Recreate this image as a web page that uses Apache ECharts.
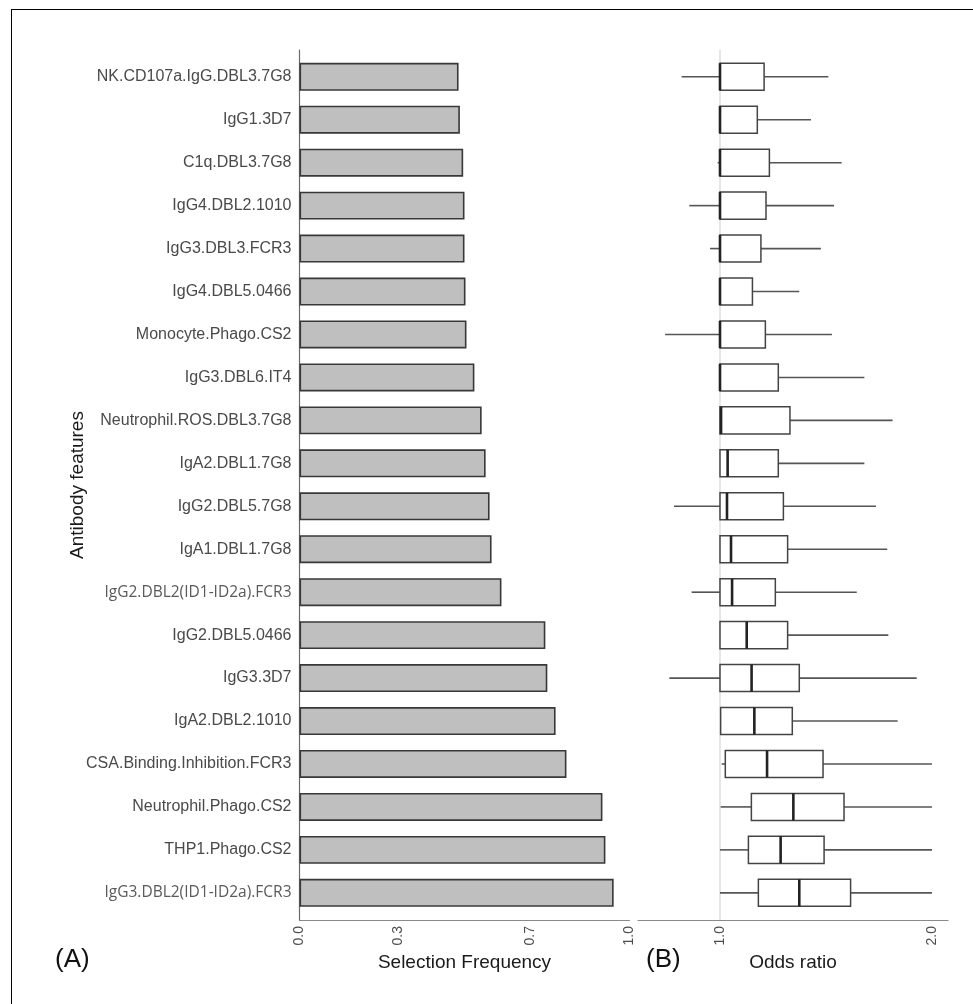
<!DOCTYPE html>
<html><head><meta charset="utf-8">
<script src="https://cdn.jsdelivr.net/npm/echarts@6/dist/echarts.min.js"></script>
<style>
html,body{margin:0;padding:0;background:#fff;}
#frame{position:absolute;left:11px;top:9px;right:0;bottom:0;border-top:1px solid #000;border-left:1px solid #000;}
#chart{position:absolute;left:0;top:0;width:973px;height:1004px;}
</style></head><body>
<div id="frame"></div>
<div id="chart"></div>
<script>
// ---- data (top to bottom) ----
const categories = [
  'NK.CD107a.IgG.DBL3.7G8','IgG1.3D7','C1q.DBL3.7G8','IgG4.DBL2.1010','IgG3.DBL3.FCR3',
  'IgG4.DBL5.0466','Monocyte.Phago.CS2','IgG3.DBL6.IT4','Neutrophil.ROS.DBL3.7G8','IgA2.DBL1.7G8',
  'IgG2.DBL5.7G8','IgA1.DBL1.7G8','IgG2.DBL2(ID1-ID2a).FCR3','IgG2.DBL5.0466','IgG3.3D7',
  'IgA2.DBL2.1010','CSA.Binding.Inhibition.FCR3','Neutrophil.Phago.CS2','THP1.Phago.CS2','IgG3.DBL2(ID1-ID2a).FCR3'
];
const selectionFreq = [0.482,0.486,0.496,0.500,0.500,0.503,0.506,0.530,0.552,0.564,
                       0.576,0.582,0.612,0.745,0.751,0.776,0.809,0.918,0.927,0.952];
const orMin = [0.819,1.000,0.989,0.855,0.953,1.000,0.741,1.000,1.000,1.000,
               0.783,1.000,0.866,1.000,0.761,1.000,1.008,1.003,1.000,1.000];
const orQ1  = [1.000,1.000,1.000,1.000,1.000,1.000,1.000,1.000,1.000,1.000,
               1.000,1.000,1.000,1.000,1.000,1.003,1.025,1.148,1.134,1.181];
const orMed = [1.000,1.000,1.000,1.000,1.000,1.000,1.000,1.000,1.005,1.036,
               1.033,1.052,1.057,1.126,1.149,1.162,1.222,1.346,1.286,1.374];
const orQ3  = [1.208,1.176,1.233,1.217,1.193,1.153,1.214,1.275,1.330,1.275,
               1.299,1.319,1.261,1.319,1.374,1.341,1.486,1.585,1.491,1.616];
const orMax = [1.511,1.429,1.574,1.538,1.476,1.374,1.528,1.681,1.814,1.681,
               1.736,1.789,1.645,1.794,1.928,1.838,2.000,2.000,2.000,2.000];
const freqTicks = [0, 0.3, 0.7, 1.0];
const oddsTicks = [1.0, 2.0];
const oddsRefLine = 1.0;
const oddsAxisMin = 0.6132, oddsAxisMax = 2.0755;

const FONT = '"Liberation Sans", Arial, sans-serif';
const boxData = categories.map((c, i) => [i, orMin[i], orQ1[i], orMed[i], orQ3[i], orMax[i]]);

const chart = echarts.init(document.getElementById('chart'), null, {renderer: 'canvas'});
const tickLabel = {fontFamily: FONT, fontSize: 14, color: '#4d4d4d', rotate: 90, margin: 6,
                   formatter: v => Number(v).toFixed(1)};
const axisName = {fontFamily: FONT, fontSize: 19, color: '#1a1a1a'};

const option = {
  animation: false,
  textStyle: {fontFamily: FONT},
  title: [
    {text: '(A)', left: 50, top: 942, textStyle: {fontFamily: FONT, fontSize: 26, fontWeight: 'normal', color: '#111'}},
    {text: '(B)', left: 641, top: 942, textStyle: {fontFamily: FONT, fontSize: 26, fontWeight: 'normal', color: '#111'}}
  ],
  grid: [
    {left: 299.5, top: 55.3, width: 330, height: 859},
    {left: 299.5, top: 50, width: 330, height: 870},
    {left: 638, top: 55.3, width: 310, height: 859},
    {left: 638, top: 50, width: 310, height: 870}
  ],
  xAxis: [
    {gridIndex: 0, type: 'value', min: 0, max: 1, show: false},
    {gridIndex: 1, type: 'value', min: 0, max: 1,
     axisLine: {show: true, lineStyle: {color: '#8a8a8a', width: 1.2}},
     axisTick: {show: false}, splitLine: {show: false},
     axisLabel: Object.assign({customValues: freqTicks}, tickLabel),
     name: 'Selection Frequency', nameLocation: 'middle', nameGap: 28, nameTextStyle: axisName},
    {gridIndex: 2, type: 'value', min: oddsAxisMin, max: oddsAxisMax, show: false},
    {gridIndex: 3, type: 'value', min: oddsAxisMin, max: oddsAxisMax,
     axisLine: {show: true, lineStyle: {color: '#8a8a8a', width: 1.2}},
     axisTick: {show: false}, splitLine: {show: false},
     axisLabel: Object.assign({customValues: oddsTicks}, tickLabel),
     name: 'Odds ratio', nameLocation: 'middle', nameGap: 28, nameTextStyle: axisName}
  ],
  yAxis: [
    {gridIndex: 0, type: 'category', data: categories, inverse: true,
     axisLine: {show: false}, axisTick: {show: false}, splitLine: {show: false},
     axisLabel: {fontFamily: FONT, fontSize: 16, color: '#4a4a4a', margin: 8,
                 formatter: v => v.indexOf('(ID1') >= 0 ? '{alt|' + v + '}' : v,
                 rich: {alt: {fontFamily: '"Open Sans", sans-serif', fontSize: 15.5, color: '#5a5a5a'}}}},
    {gridIndex: 1, type: 'value', min: 0, max: 1,
     axisLine: {show: true, lineStyle: {color: '#6a6a6a', width: 1.2}},
     axisTick: {show: false}, axisLabel: {show: false}, splitLine: {show: false},
     name: 'Antibody features', nameLocation: 'middle', nameGap: 212, nameRotate: 90, nameTextStyle: axisName},
    {gridIndex: 2, type: 'category', data: categories, inverse: true, show: false},
    {gridIndex: 3, type: 'value', min: 0, max: 1, show: false}
  ],
  series: [
    {type: 'bar', xAxisIndex: 0, yAxisIndex: 0, data: selectionFreq, barWidth: '65%',
     itemStyle: {color: '#bfbfbf', borderColor: '#383838', borderWidth: 1.6}},
    {type: 'line', xAxisIndex: 3, yAxisIndex: 3, data: [[oddsRefLine, 0], [oddsRefLine, 1]],
     symbol: 'none', lineStyle: {color: '#d6d6d6', width: 1.2}, z: 1, silent: true},
    {type: 'custom', xAxisIndex: 2, yAxisIndex: 2, data: boxData, z: 5,
     encode: {x: [1, 2, 3, 4, 5], y: 0},
     renderItem: function (params, api) {
       const cat = api.value(0);
       const h = api.size([0, 1])[1] * 0.63;
       const pMin = api.coord([api.value(1), cat]);
       const pQ1 = api.coord([api.value(2), cat]);
       const pMed = api.coord([api.value(3), cat]);
       const pQ3 = api.coord([api.value(4), cat]);
       const pMax = api.coord([api.value(5), cat]);
       const wStyle = {stroke: '#555', lineWidth: 1.6};
       return {type: 'group', children: [
         {type: 'line', shape: {x1: pMin[0], y1: pMin[1], x2: pQ1[0], y2: pQ1[1]}, style: wStyle},
         {type: 'line', shape: {x1: pQ3[0], y1: pQ3[1], x2: pMax[0], y2: pMax[1]}, style: wStyle},
         {type: 'rect', shape: {x: pQ1[0], y: pQ1[1] - h / 2, width: pQ3[0] - pQ1[0], height: h},
          style: {fill: '#fff', stroke: '#444', lineWidth: 1.5}},
         {type: 'line', shape: {x1: pMed[0], y1: pMed[1] - h / 2, x2: pMed[0], y2: pMed[1] + h / 2},
          style: {stroke: '#222', lineWidth: 2.6}}
       ]};
     }}
  ]
};
chart.setOption(option);
</script>
</body></html>
